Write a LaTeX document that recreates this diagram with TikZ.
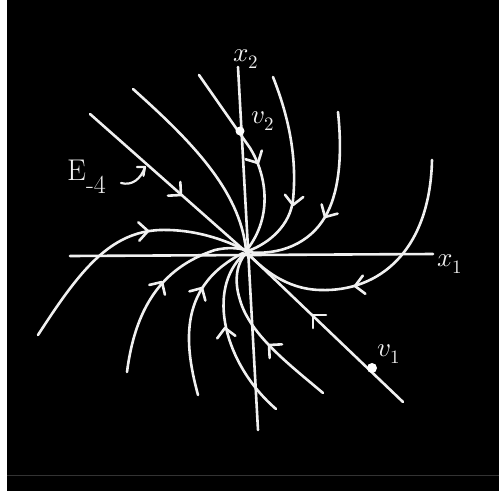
\documentclass[tikz,border=0pt]{standalone}
\usepackage{unicode-math}
\begin{document}
\begin{tikzpicture}[x=1pt,y=-1pt,
  flow/.style={draw=white!94!black, line width=2.6pt, line cap=round, line join=round},
  lbl/.style={text=white!94!black, inner sep=0pt, font=\fontsize{27}{27}\selectfont}]
\useasboundingbox (0,0) rectangle (499,491);
\fill[white] (0,0) rectangle (499,491);
\fill[black] (7,0) rectangle (499,491);
\draw[black!80!white, line width=0.8pt] (7,475) -- (499,475);
\newcommand\chev[3]{\draw[flow] (#1,#2) +({#3+135}:13) -- (#1,#2) -- +({#3-135}:13);}
\coordinate (O) at (245,251);
% axes
\draw[flow] (70,256) -- (433,254);
\draw[flow] (238,67) -- (258,430);
% eigen line
\draw[flow] (90,114) -- (O) -- (403,402);
% upper-left second line
\draw[flow] (133,89) .. controls (190,140) and (240,190) .. (246,250);
% v2 line
\draw[flow] (199,75) -- (250,148) .. controls (265,172) and (275,215) .. (246,251);
% curve 4
\draw[flow] (273,77) .. controls (290,120) and (297,160) .. (293,200) .. controls (290,225) and (270,243) .. (248,251);
% curve 5
\draw[flow] (338,112) .. controls (343,160) and (338,195) .. (325,217) .. controls (310,243) and (280,256) .. (247,252);
% curve 6
\draw[flow] (432,160) .. controls (430,250) and (380,292) .. (320,290) .. controls (285,289) and (262,268) .. (247,253);
% d
\draw[flow] (323,393) .. controls (290,365) and (250,335) .. (240,300) .. controls (233,278) and (238,262) .. (246,253);
% c
\draw[flow] (276,409) .. controls (225,365) and (205,290) .. (244,254);
% b
\draw[flow] (198,395) .. controls (183,340) and (180,285) .. (243,253);
% a
\draw[flow] (127,372) .. controls (135,310) and (160,268) .. (215,250) .. controls (228,247) and (238,248) .. (245,250);
% L1
\draw[flow] (38,335) .. controls (80,270) and (110,232) .. (160,230) .. controls (195,229) and (225,240) .. (245,250);
% arrows
\chev{181}{195}{42}
\chev{258}{163}{62}
\chev{293}{205}{97}
\chev{325}{217}{120}
\chev{355}{286}{172}
\chev{313}{315}{225}
\chev{269}{345}{222}
\chev{225}{328}{262}
\chev{202}{288}{300}
\chev{162}{282}{302}
\chev{148}{231}{357}
% points
\fill[white] (240,131) circle[radius=4.5];
\fill[white] (372,368) circle[radius=5];
% labels
\node[lbl] (x1) at (450,264) {$x_1$};
\node[lbl] (x2) at (246,59) {$x_2$};
\node[lbl] (v2) at (263,121) {$v_2$};
\node[lbl] (v1) at (389,354) {$v_1$};
\node[lbl, anchor=west, font=\fontsize{30}{30}\selectfont] (E) at (67,177) {E\raisebox{-13pt}{\fontsize{26}{26}\selectfont -4}};
\coordinate (Et) at (145,167);
\draw[flow, line width=2.2pt] (121,183) .. controls (132,186) and (141,179) .. (Et);
\draw[flow, line width=2.2pt] (Et) +(180:8) -- (Et) -- +(100:9);
\end{tikzpicture}
\end{document}
